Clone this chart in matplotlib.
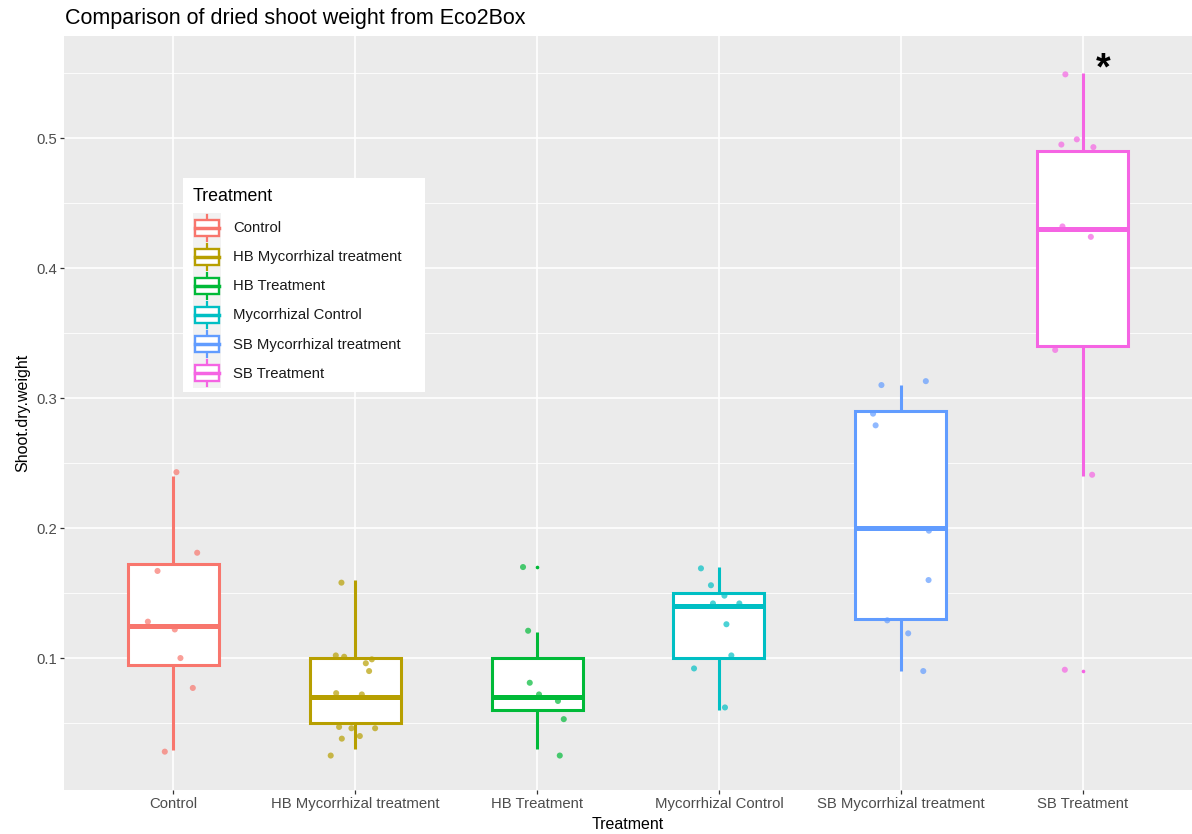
import matplotlib
matplotlib.use("Agg")
import matplotlib.pyplot as plt
import numpy as np
from matplotlib.patches import Rectangle
from matplotlib.lines import Line2D
from matplotlib.legend_handler import HandlerBase

plt.rcParams['font.family'] = ['Liberation Sans', 'DejaVu Sans']

# === DATA ===
treatments = ["Control", "HB Mycorrhizal treatment", "HB Treatment",
              "Mycorrhizal Control", "SB Mycorrhizal treatment", "SB Treatment"]
colors = ["#F8766D", "#B79F00", "#00BA38", "#00BFC4", "#619CFF", "#F564E3"]

# box summary per treatment
whisker_lo = [0.029, 0.030, 0.030, 0.060, 0.090, 0.240]
q1         = [0.095, 0.050, 0.060, 0.100, 0.130, 0.340]
median     = [0.125, 0.070, 0.070, 0.140, 0.200, 0.430]
q3         = [0.172, 0.100, 0.100, 0.150, 0.290, 0.490]
whisker_hi = [0.240, 0.160, 0.120, 0.170, 0.310, 0.550]
outliers   = [[], [], [0.170], [], [], [0.090]]

# jittered raw points (horizontal offset from category, weight)
pts_control_dx = [0.018, 0.132, -0.086, -0.139, 0.009, 0.040, 0.108, -0.046]
pts_control_y  = [0.243, 0.181, 0.167, 0.128, 0.122, 0.100, 0.077, 0.028]
pts_hbmyc_dx = [-0.075, -0.106, -0.060, 0.092, 0.059, 0.077, -0.104, 0.037,
                -0.088, -0.020, 0.110, -0.073, 0.026, -0.134]
pts_hbmyc_y  = [0.158, 0.102, 0.101, 0.099, 0.096, 0.090, 0.073, 0.072,
                0.047, 0.046, 0.046, 0.038, 0.040, 0.025]
pts_hb_dx = [-0.077, -0.049, -0.040, 0.011, 0.115, 0.147, 0.125]
pts_hb_y  = [0.170, 0.121, 0.081, 0.072, 0.067, 0.053, 0.025]
pts_mycctl_dx = [-0.099, -0.044, 0.030, -0.033, 0.112, 0.041, 0.068, -0.137, 0.033]
pts_mycctl_y  = [0.169, 0.156, 0.148, 0.142, 0.142, 0.126, 0.102, 0.092, 0.062]
pts_sbmyc_dx = [-0.107, 0.137, -0.153, -0.139, 0.154, 0.152, -0.075, 0.040, 0.123]
pts_sbmyc_y  = [0.310, 0.313, 0.288, 0.279, 0.198, 0.160, 0.129, 0.119, 0.090]
pts_sb_dx = [-0.096, -0.118, -0.033, 0.058, -0.112, 0.044, -0.152, 0.051, -0.099]
pts_sb_y  = [0.549, 0.495, 0.499, 0.493, 0.432, 0.424, 0.337, 0.241, 0.091]

points_dx = [pts_control_dx, pts_hbmyc_dx, pts_hb_dx, pts_mycctl_dx, pts_sbmyc_dx, pts_sb_dx]
points_y = [pts_control_y, pts_hbmyc_y, pts_hb_y, pts_mycctl_y, pts_sbmyc_y, pts_sb_y]

# === FIGURE ===
W, H = 1192, 834
fig = plt.figure(figsize=(W / 100, H / 100), dpi=100)
fig.patch.set_facecolor('white')
ax = fig.add_axes([64 / W, 44 / H, 1128 / W, 754 / H])
ax.set_facecolor('#EBEBEB')

positions = np.arange(1, len(treatments) + 1)

stats = []
for i in range(len(treatments)):
    stats.append(dict(med=median[i], q1=q1[i], q3=q3[i],
                      whislo=whisker_lo[i], whishi=whisker_hi[i],
                      fliers=outliers[i]))

bp = ax.bxp(stats, positions=positions, widths=0.5, showcaps=False,
            patch_artist=True, manage_ticks=False)
for i, c in enumerate(colors):
    bp['boxes'][i].set(facecolor='white', edgecolor=c, linewidth=2.2, zorder=3)
    bp['medians'][i].set(color=c, linewidth=3.6, zorder=4, solid_capstyle='butt')
    for w in bp['whiskers'][2 * i:2 * i + 2]:
        w.set(color=c, linewidth=2.2, zorder=2, solid_capstyle='butt')
    bp['fliers'][i].set(marker='o', markersize=1.6, markerfacecolor=c,
                        markeredgecolor=c, zorder=4)

# jittered points on top of the boxes
for i, c in enumerate(colors):
    xs = positions[i] + np.array(points_dx[i])
    ax.scatter(xs, points_y[i], s=19, color=c, alpha=0.7, edgecolors='none', zorder=5)

# significance marker
ax.text(positions[5] + 0.11, whisker_hi[5] + 0.003, "*", fontsize=27,
        fontweight='bold', ha='center', va='center', color='black', zorder=6)

# === AXES STYLE ===
ax.set_xlim(0.4, 6.6)
ax.set_ylim(-0.0015, 0.5785)
ax.set_xticks(positions)
ax.set_xticklabels(treatments)
ax.set_yticks([0.1, 0.2, 0.3, 0.4, 0.5])
ax.set_yticks([0.05, 0.15, 0.25, 0.35, 0.45, 0.55], minor=True)
ax.grid(True, which='major', color='white', linewidth=1.2)
ax.grid(True, which='minor', axis='y', color='white', linewidth=0.6)
ax.set_axisbelow(True)
for s in ax.spines.values():
    s.set_visible(False)
ax.tick_params(axis='both', which='major', length=2.7, width=0.9, color='#333333',
               labelsize=10.7, labelcolor='#4D4D4D', pad=2.5)
ax.tick_params(axis='y', which='minor', length=0)

ax.set_xlabel("Treatment", fontsize=11.5, color='black', labelpad=4.5)
ax.set_ylabel("Shoot.dry.weight", fontsize=11.5, color='black', labelpad=4)

fig.text(65 / W, 1 - 24 / H, "Comparison of dried shoot weight from Eco2Box",
         fontsize=15.5, color='black', ha='left', va='baseline')


# === LEGEND with small boxplot keys ===
class BoxKeyHandler(HandlerBase):
    def create_artists(self, legend, orig_handle, xdescent, ydescent,
                       width, height, fontsize, trans):
        c = orig_handle.get_edgecolor()
        x0, y0 = -xdescent, -ydescent
        bg = Rectangle((x0, y0), width, height, facecolor='#F2F2F2',
                       edgecolor='none', transform=trans)
        bw, bh = width * 0.84, height * 0.56
        bx, by = x0 + (width - bw) / 2, y0 + (height - bh) / 2
        box = Rectangle((bx, by), bw, bh, facecolor='white', edgecolor=c,
                        linewidth=1.7, transform=trans)
        cx = x0 + width / 2
        w1 = Line2D([cx, cx], [y0 + 1.0, by], color=c, linewidth=1.6, transform=trans)
        w2 = Line2D([cx, cx], [by + bh, y0 + height - 1.0], color=c, linewidth=1.6,
                    transform=trans)
        med = Line2D([bx, bx + bw], [y0 + height / 2] * 2, color=c, linewidth=2.5,
                     transform=trans)
        return [bg, w1, w2, box, med]


handles = [Rectangle((0, 0), 1, 1, edgecolor=c, facecolor='white') for c in colors]
fig.add_artist(Rectangle((183 / W, 1 - 392 / H), (425 - 183) / W, (392 - 178) / H,
                         transform=fig.transFigure, facecolor='white',
                         edgecolor='none', zorder=4))
leg = fig.legend(handles, treatments, title="Treatment",
                 handler_map={Rectangle: BoxKeyHandler()},
                 loc='upper left', bbox_to_anchor=(192.5 / W, 1 - 188 / H),
                 bbox_transform=fig.transFigure, frameon=False, borderpad=0,
                 borderaxespad=0, fontsize=10.7, title_fontsize=12.8,
                 handlelength=1.95, handleheight=2.63, labelspacing=0,
                 handletextpad=0.8, alignment='left')
leg._legend_box.sep = 6
leg.set_zorder(5)
for t in leg.get_texts():
    t.set_color('#1A1A1A')

fig.savefig("out.png", dpi=100, facecolor='white')
